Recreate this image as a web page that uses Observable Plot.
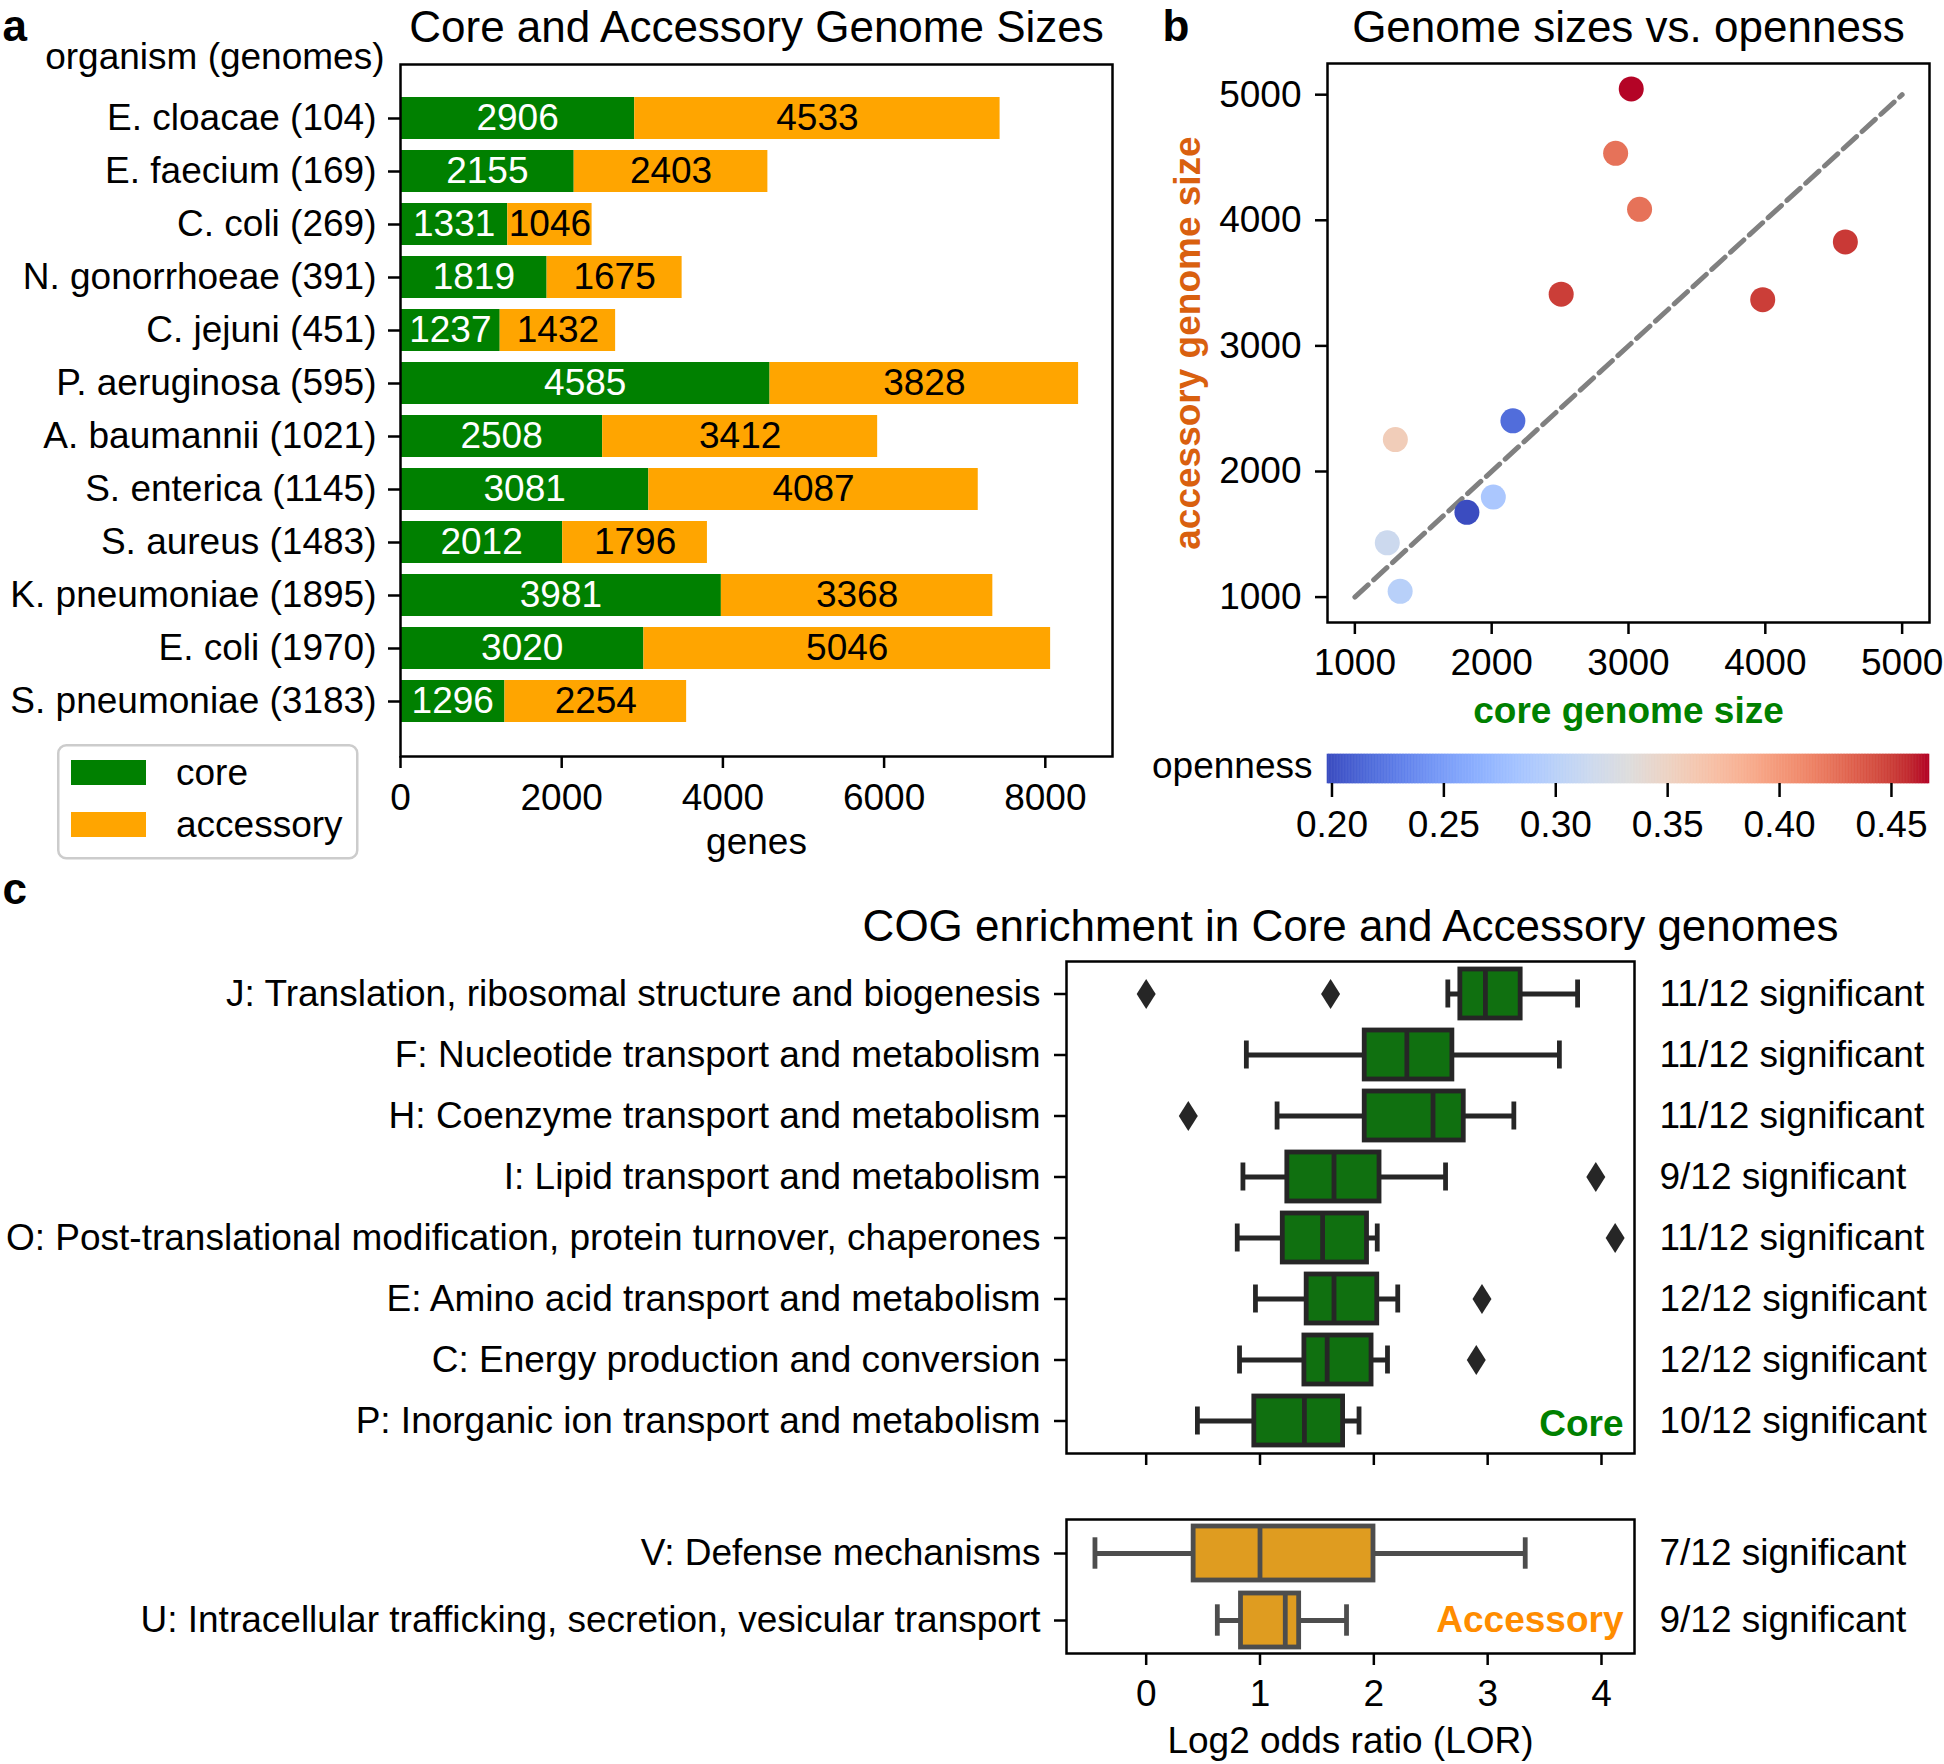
<!DOCTYPE html>
<html><head><meta charset="utf-8">
<script src="https://cdn.jsdelivr.net/npm/d3@7"></script>
<script src="https://cdn.jsdelivr.net/npm/@observablehq/plot@0.6"></script>
<style>
html,body{margin:0;padding:0;background:#fff;}
#root{position:relative;width:1944px;height:1764px;background:#fff;overflow:hidden;}
</style></head><body><div id="root"></div>
<script>
// ---------- DATA ----------
const organisms = ["E. cloacae (104)", "E. faecium (169)", "C. coli (269)", "N. gonorrhoeae (391)", "C. jejuni (451)", "P. aeruginosa (595)", "A. baumannii (1021)", "S. enterica (1145)", "S. aureus (1483)", "K. pneumoniae (1895)", "E. coli (1970)", "S. pneumoniae (3183)"];
const coreSizes = [2906, 2155, 1331, 1819, 1237, 4585, 2508, 3081, 2012, 3981, 3020, 1296];
const accessorySizes = [4533, 2403, 1046, 1675, 1432, 3828, 3412, 4087, 1796, 3368, 5046, 2254];
const openness = [0.424, 0.218, 0.299, 0.198, 0.316, 0.452, 0.450, 0.424, 0.288, 0.450, 0.467, 0.357];
const genesTicks = [0, 2000, 4000, 6000, 8000];
const sizeTicks = [1000, 2000, 3000, 4000, 5000];
const diagonal = [1000, 5000];
const opennessTicks = [0.20, 0.25, 0.30, 0.35, 0.40, 0.45];

const coreCategories = ["J: Translation, ribosomal structure and biogenesis", "F: Nucleotide transport and metabolism", "H: Coenzyme transport and metabolism", "I: Lipid transport and metabolism", "O: Post-translational modification, protein turnover, chaperones", "E: Amino acid transport and metabolism", "C: Energy production and conversion", "P: Inorganic ion transport and metabolism"];
const coreLow    = [2.65, 0.88, 1.15, 0.85, 0.80, 0.96, 0.82, 0.45];
const coreQ1     = [2.76, 1.92, 1.92, 1.24, 1.20, 1.41, 1.39, 0.95];
const coreMedian = [2.98, 2.29, 2.52, 1.65, 1.55, 1.65, 1.59, 1.39];
const coreQ3     = [3.29, 2.69, 2.79, 2.05, 1.94, 2.03, 1.98, 1.73];
const coreHigh   = [3.79, 3.63, 3.23, 2.63, 2.03, 2.21, 2.12, 1.87];
const coreOutliers = [[0.0, 1.62], [], [0.37], [3.95], [4.12], [2.95], [2.90], []];
const coreSignificant = ["11/12 significant", "11/12 significant", "11/12 significant", "9/12 significant", "11/12 significant", "12/12 significant", "12/12 significant", "10/12 significant"];

const accCategories = ["V: Defense mechanisms", "U: Intracellular trafficking, secretion, vesicular transport"];
const accLow    = [-0.45, 0.625];
const accQ1     = [0.417, 0.833];
const accMedian = [1.0, 1.222];
const accQ3     = [1.997, 1.344];
const accHigh   = [3.33, 1.76];
const accOutliers = [[], []];
const accSignificant = ["7/12 significant", "9/12 significant"];
const lorTicks = [0, 1, 2, 3, 4];

// ---------- STYLE ----------
const FONT = '"Liberation Sans", Arial, Helvetica, sans-serif';
const FS = 37;
const baseStyle = {fontFamily: FONT, fontSize: FS + "px", color: "#000", background: "transparent", overflow: "visible"};
const coolwarm = ["#3b4cc0","#445acc","#4d68d7","#5775e1","#6282ea","#6c8ef1","#779af7","#82a5fb","#8db0fe","#98b9ff","#a3c2ff","#aec9fd","#b8d0f9","#c2d5f4","#ccd9ee","#d5dbe6","#dddddd","#e5d8d1","#ecd3c5","#f1ccb8","#f5c4ac","#f7bba0","#f7b194","#f7a687","#f49a7b","#f18d6f","#ec7f63","#e57058","#de604d","#d55042","#cb3e38","#c0282f","#b40426"];
const root = document.getElementById("root");
function place(el, left, top) {
  el.style.position = "absolute"; el.style.left = left + "px"; el.style.top = top + "px";
  root.appendChild(el);
}
const thinDiamond = {draw(ctx) { const w = 9.5, h = 15; ctx.moveTo(0, -h); ctx.lineTo(w, 0); ctx.lineTo(0, h); ctx.lineTo(-w, 0); ctx.closePath(); }};

// ---------- PANEL A ----------
const rowsA = organisms.map((organism, i) => ({organism, core: coreSizes[i], accessory: accessorySizes[i]}));
const maxTotal = d3.max(rowsA, d => d.core + d.accessory);
const plotA = Plot.plot({
  width: 1120, height: 880, marginLeft: 400, marginTop: 64, marginRight: 8, marginBottom: 124,
  style: baseStyle,
  x: {domain: [0, maxTotal * 1.05]},
  y: {domain: organisms, paddingInner: 0.2, paddingOuter: 0.59},
  marks: [
    Plot.barX(rowsA, {y: "organism", x1: () => 0, x2: "core", fill: "#008000"}),
    Plot.barX(rowsA, {y: "organism", x1: "core", x2: d => d.core + d.accessory, fill: "#FFA500"}),
    Plot.text(rowsA, {y: "organism", x: d => d.core / 2, text: d => String(d.core), fill: "white"}),
    Plot.text(rowsA, {y: "organism", x: d => d.core + d.accessory / 2, text: d => String(d.accessory), fill: "black"}),
    Plot.frame({stroke: "black", strokeWidth: 2.5}),
    Plot.axisY({tickSize: 12, tickPadding: 12, label: null, strokeWidth: 2.5}),
    Plot.axisX({ticks: genesTicks, tickSize: 12, tickPadding: 15, label: null, strokeWidth: 2.5, tickFormat: d => String(d)}),
    Plot.text(["genes"], {text: d => d, frameAnchor: "bottom", dy: 97, lineAnchor: "bottom"}),
    Plot.text(["organism (genomes)"], {text: d => d, frameAnchor: "top-left", dx: -16, dy: 4, textAnchor: "end", lineAnchor: "bottom"}),
    Plot.text(["Core and Accessory Genome Sizes"], {text: d => d, frameAnchor: "top", dy: -23, lineAnchor: "bottom", fontSize: 44}),
    Plot.text(["a"], {text: d => d, frameAnchor: "top-left", dx: -398, dy: -24, textAnchor: "start", lineAnchor: "bottom", fontSize: 44, fontWeight: "bold"})
  ]
});
place(plotA, 0, 0);

// legend for panel a
(function () {
  const svg = d3.create("svg").attr("width", 310).attr("height", 125)
    .style("font-family", FONT).style("font-size", FS + "px").style("overflow", "visible");
  svg.append("rect").attr("x", 1.25).attr("y", 1.25).attr("width", 299).attr("height", 113).attr("rx", 8)
    .attr("fill", "white").attr("stroke", "#cccccc").attr("stroke-width", 2.5);
  const items = [["core", "#008000"], ["accessory", "#FFA500"]];
  items.forEach(([label, color], i) => {
    svg.append("rect").attr("x", 14).attr("y", 16 + i * 52).attr("width", 75).attr("height", 25).attr("fill", color);
    svg.append("text").attr("x", 119).attr("y", 41 + i * 52).text(label);
  });
  place(svg.node(), 57, 744);
})();

// ---------- PANEL B ----------
const rowsB = organisms.map((organism, i) => ({organism, core: coreSizes[i], accessory: accessorySizes[i], openness: openness[i]}));
function padded(values) { const [lo, hi] = d3.extent(values); const p = (hi - lo) * 0.05; return [lo - p, hi + p]; }
const xDomB = padded([...coreSizes, ...diagonal]);
const yDomB = padded([...accessorySizes, ...diagonal]);
const [oLo, oHi] = d3.extent(openness);
const colorScale = {type: "linear", domain: coolwarm.map((_, i) => oLo + (oHi - oLo) * i / (coolwarm.length - 1)), range: coolwarm, interpolate: "rgb"};
const plotB = Plot.plot({
  width: 824, height: 740, marginLeft: 207, marginTop: 63, marginRight: 15, marginBottom: 118,
  style: baseStyle,
  x: {domain: xDomB},
  y: {domain: yDomB},
  color: colorScale,
  marks: [
    Plot.line(diagonal, {x: d => d, y: d => d, stroke: "#808080", strokeWidth: 5, strokeDasharray: "18,7.5"}),
    Plot.dot(rowsB, {x: "core", y: "accessory", fill: "openness", r: 12.5}),
    Plot.frame({stroke: "black", strokeWidth: 2.5}),
    Plot.axisY({ticks: sizeTicks, tickSize: 12, tickPadding: 14, label: null, strokeWidth: 2.5, tickFormat: d => String(d)}),
    Plot.axisX({ticks: sizeTicks, tickSize: 12, tickPadding: 14, label: null, strokeWidth: 2.5, tickFormat: d => String(d)}),
    Plot.text(["core genome size"], {text: d => d, frameAnchor: "bottom", dy: 100, lineAnchor: "bottom", fontWeight: "bold", fill: "#008000"}),
    Plot.text(["accessory genome size"], {text: d => d, frameAnchor: "left", dx: -128, rotate: -90, textAnchor: "middle", lineAnchor: "bottom", fontWeight: "bold", fill: "#D9600F"}),
    Plot.text(["Genome sizes vs. openness"], {text: d => d, frameAnchor: "top", dy: -22, lineAnchor: "bottom", fontSize: 44}),
    Plot.text(["b"], {text: d => d, frameAnchor: "top-left", dx: -165, dy: -23, textAnchor: "start", lineAnchor: "bottom", fontSize: 44, fontWeight: "bold"})
  ]
});
place(plotB, 1120, 0);

// colorbar
const cbSamples = d3.range(0, 400).map(i => oLo + (oHi - oLo) * i / 400);
const cbStep = (oHi - oLo) / 400;
const plotCB = Plot.plot({
  width: 824, height: 110, marginLeft: 207, marginTop: 14, marginRight: 15, marginBottom: 67,
  style: baseStyle,
  x: {domain: [oLo, oHi]},
  color: colorScale,
  marks: [
    Plot.barX(cbSamples, {x1: d => d, x2: d => d + cbStep, fill: d => d + cbStep / 2, stroke: d => d + cbStep / 2, strokeWidth: 0.6}),
    Plot.axisX({ticks: opennessTicks, tickSize: 14, tickPadding: 13, label: null, strokeWidth: 2.5, tickFormat: d3.format(".2f")}),
    Plot.text(["openness"], {text: d => d, frameAnchor: "left", dx: -15, dy: 8.5, textAnchor: "end", lineAnchor: "bottom"})
  ]
});
place(plotCB, 1120, 740);

// ---------- PANEL C ----------
const lorDomain = [-0.70, 4.29];
function boxRows(cats, lo, q1, med, q3, hi, sig) {
  return cats.map((cat, i) => ({cat, lo: lo[i], q1: q1[i], median: med[i], q3: q3[i], hi: hi[i], sig: sig[i]}));
}
function outlierRows(cats, outs) {
  return cats.flatMap((cat, i) => outs[i].map(v => ({cat, v})));
}
const SW = 4.8;
function boxMarks(rows, outs, fill, edge, capInset) {
  return [
    Plot.ruleY(rows, {y: "cat", x1: "lo", x2: "hi", stroke: edge, strokeWidth: SW}),
    Plot.tickX(rows, {y: "cat", x: "lo", stroke: edge, strokeWidth: SW, insetTop: capInset, insetBottom: capInset}),
    Plot.tickX(rows, {y: "cat", x: "hi", stroke: edge, strokeWidth: SW, insetTop: capInset, insetBottom: capInset}),
    Plot.barX(rows, {y: "cat", x1: "q1", x2: "q3", fill, stroke: edge, strokeWidth: SW}),
    Plot.tickX(rows, {y: "cat", x: "median", stroke: edge, strokeWidth: SW, insetTop: 2, insetBottom: 2}),
    Plot.dot(outs, {y: "cat", x: "v", symbol: thinDiamond, fill: edge, stroke: "none"}),
    Plot.text(rows, {y: "cat", text: "sig", frameAnchor: "right", dx: 25, textAnchor: "start"})
  ];
}
const coreRows = boxRows(coreCategories, coreLow, coreQ1, coreMedian, coreQ3, coreHigh, coreSignificant);
const plotCore = Plot.plot({
  width: 1944, height: 615, marginLeft: 1066, marginTop: 101, marginRight: 310, marginBottom: 22,
  style: baseStyle,
  x: {domain: lorDomain},
  y: {domain: coreCategories, paddingInner: 0.2, paddingOuter: 0.1},
  marks: [
    ...boxMarks(coreRows, outlierRows(coreCategories, coreOutliers), "#107010", "#262626", 10.5),
    Plot.frame({stroke: "black", strokeWidth: 2.5}),
    Plot.axisY({tickSize: 12, tickPadding: 14, label: null, strokeWidth: 2.5}),
    Plot.axisX({ticks: lorTicks, tickSize: 12, label: null, strokeWidth: 2.5, tickFormat: () => ""}),
    Plot.text(["Core"], {text: d => d, frameAnchor: "bottom-right", dx: -11, dy: -18, textAnchor: "end", lineAnchor: "bottom", fontWeight: "bold", fill: "#008000"}),
    Plot.text(["COG enrichment in Core and Accessory genomes"], {text: d => d, frameAnchor: "top", dy: -21, lineAnchor: "bottom", fontSize: 44}),
    Plot.text(["c"], {text: d => d, frameAnchor: "top-left", dx: -1064, dy: -58, textAnchor: "start", lineAnchor: "bottom", fontSize: 44, fontWeight: "bold"})
  ]
});
place(plotCore, 0, 860);

const accRows = boxRows(accCategories, accLow, accQ1, accMedian, accQ3, accHigh, accSignificant);
const plotAcc = Plot.plot({
  width: 1944, height: 284, marginLeft: 1066, marginTop: 39, marginRight: 310, marginBottom: 111,
  style: baseStyle,
  x: {domain: lorDomain},
  y: {domain: accCategories, paddingInner: 0.2, paddingOuter: 0.1},
  marks: [
    ...boxMarks(accRows, outlierRows(accCategories, accOutliers), "#DF9C20", "#4D4D4D", 11.3),
    Plot.frame({stroke: "black", strokeWidth: 2.5}),
    Plot.axisY({tickSize: 12, tickPadding: 14, label: null, strokeWidth: 2.5}),
    Plot.axisX({ticks: lorTicks, tickSize: 12, tickPadding: 14, label: null, strokeWidth: 2.5, tickFormat: d => String(d)}),
    Plot.text(["Accessory"], {text: d => d, frameAnchor: "bottom-right", dx: -11, dy: -22, textAnchor: "end", lineAnchor: "bottom", fontWeight: "bold", fill: "#FF8C00"}),
    Plot.text(["Log2 odds ratio (LOR)"], {text: d => d, frameAnchor: "bottom", dy: 99, lineAnchor: "bottom"})
  ]
});
place(plotAcc, 0, 1480);
</script>
</body></html>
